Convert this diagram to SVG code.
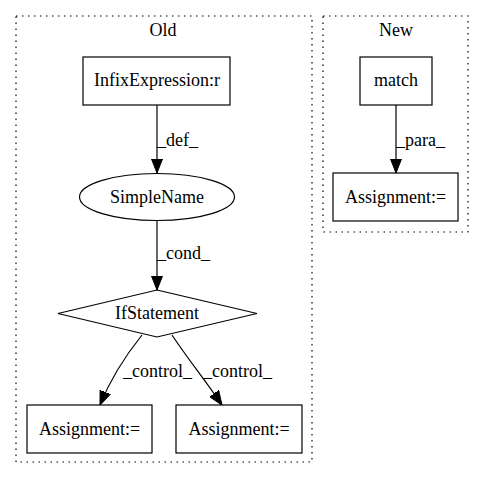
<svg xmlns="http://www.w3.org/2000/svg" width="485" height="480" viewBox="0 0 485 480">
<style>
text{font-family:"Liberation Serif","Times New Roman",serif;font-size:18px;fill:#000}
.c{text-anchor:middle}
.n{fill:#fff;stroke:#000;stroke-width:1.2}
.cl{fill:none;stroke:#000;stroke-width:1.2;stroke-dasharray:1.5,4.5}
.e{fill:none;stroke:#000;stroke-width:1.2}
</style>
<defs>
<marker id="ah" viewBox="0 0 14 12" refX="14" refY="6" markerWidth="14" markerHeight="12" markerUnits="userSpaceOnUse" orient="auto">
<path d="M0,0.5 L14,6 L0,11.5 Z" fill="#000" stroke="#000"/>
</marker>
</defs>
<rect width="485" height="480" fill="#fff"/>
<g id="cluster_old">
<rect class="cl" x="16" y="16" width="296" height="446"/>
<text class="c" x="163" y="36">Old</text>
</g>
<g id="cluster_new">
<rect class="cl" x="323" y="16" width="145" height="216"/>
<text class="c" x="396" y="36">New</text>
</g>
<g id="connectors">
<path class="e" d="M157,105 L157,173" marker-end="url(#ah)"/>
<text x="157" y="146">_def_</text>
<path class="e" d="M157,220 L157,290" marker-end="url(#ah)"/>
<text x="157" y="259">_cond_</text>
<path class="e" d="M142,335 C130,350 112,375 100,405" marker-end="url(#ah)"/>
<text x="123" y="377">_control_</text>
<path class="e" d="M172,335 C185,355 205,380 222,405" marker-end="url(#ah)"/>
<text x="203" y="377">_control_</text>
<path class="e" d="M396,105 L396,173" marker-end="url(#ah)"/>
<text x="396" y="146">_para_</text>
</g>
<g id="InfixExpression">
<rect class="n" x="83" y="57" width="147" height="48"/>
<text class="c" x="157" y="86">InfixExpression:r</text>
</g>
<g id="SimpleName">
<ellipse class="n" cx="157" cy="197" rx="77.5" ry="23.5"/>
<text class="c" x="157" y="203">SimpleName</text>
</g>
<g id="IfStatement">
<polygon class="n" points="157,290 257,313.5 157,337 58,313.5"/>
<text class="c" x="157" y="319">IfStatement</text>
</g>
<g id="Assignment1">
<rect class="n" x="27" y="405" width="125" height="48"/>
<text class="c" x="89.5" y="435">Assignment:=</text>
</g>
<g id="Assignment2">
<rect class="n" x="176" y="405" width="126" height="48"/>
<text class="c" x="239" y="435">Assignment:=</text>
</g>
<g id="match">
<rect class="n" x="360" y="57" width="72" height="48"/>
<text class="c" x="396" y="86">match</text>
</g>
<g id="Assignment3">
<rect class="n" x="333" y="173" width="125" height="48"/>
<text class="c" x="395.5" y="203">Assignment:=</text>
</g>
</svg>
